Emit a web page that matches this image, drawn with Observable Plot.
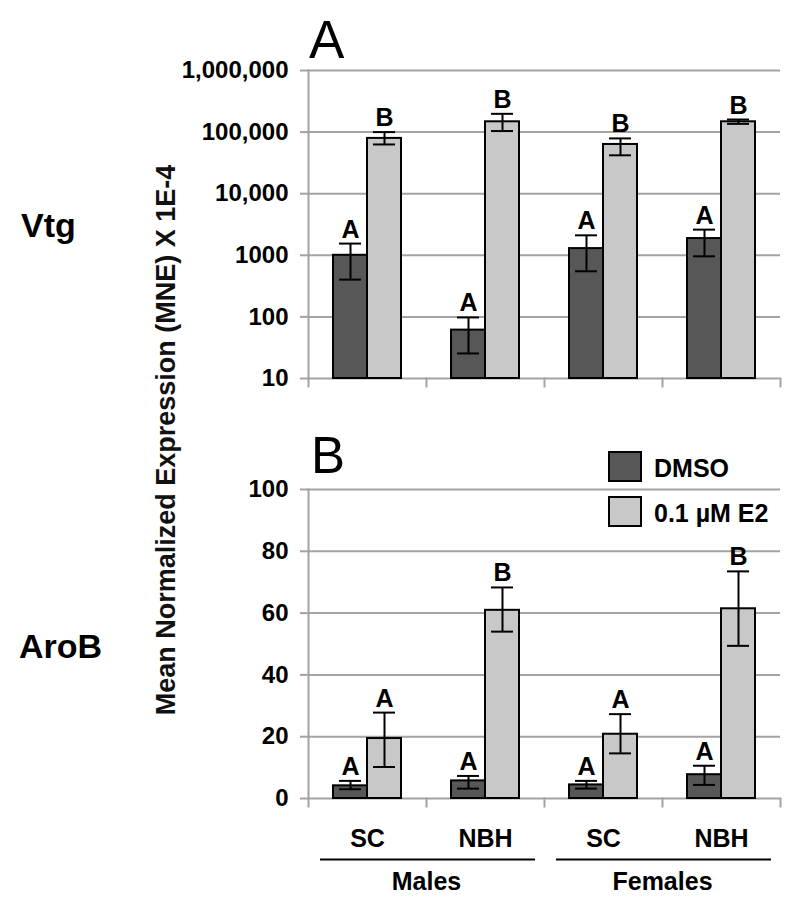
<!DOCTYPE html>
<html><head><meta charset="utf-8">
<script src="https://cdn.jsdelivr.net/npm/d3@7"></script>
<script src="https://cdn.jsdelivr.net/npm/@observablehq/plot@0.6"></script>
<style>
html,body{margin:0;padding:0;background:#fff;}
#chart{position:relative;width:800px;height:910px;background:#fff;}
#chart .wrap{position:absolute;left:0;width:800px;}
#chart svg{overflow:visible;}
#chart svg text{font-family:"Liberation Sans",Arial,Helvetica,sans-serif;font-weight:bold;}
#overlay{position:absolute;left:0;top:0;pointer-events:none;}
</style></head><body><div id="chart"></div>
<script>
// ---- categories ----
const groups = ["Males SC", "Males NBH", "Females SC", "Females NBH"];
const groupSex = ["Males", "Males", "Females", "Females"];
const groupSite = ["SC", "NBH", "SC", "NBH"];
const sexes = ["Males", "Females"];
const sites = ["SC", "NBH"];
const treatments = ["DMSO", "0.1 µM E2"];
const fills = ["#575757", "#c8c8c8"];
const GRID = "#a3a3a3";

// ---- Vtg (log panel A) ----
const vtgTicks = [10, 100, 1000, 10000, 100000, 1000000];
const vtgTickLabels = ["10", "100", "1000", "10,000", "100,000", "1,000,000"];
const vtgDmso   = [1000, 61, 1285, 1870];
const vtgDmsoLo = [403, 25.5, 550, 963];
const vtgDmsoHi = [1550, 98, 2110, 2610];
const vtgE2     = [79000, 147000, 63000, 147000];
const vtgE2Lo   = [63000, 104000, 42000, 136000];
const vtgE2Hi   = [100000, 198000, 79000, 160000];
const vtgDmsoLetters = ["A", "A", "A", "A"];
const vtgE2Letters   = ["B", "B", "B", "B"];

// ---- AroB (linear panel B) ----
const aroTicks = [0, 20, 40, 60, 80, 100];
const aroTickLabels = ["0", "20", "40", "60", "80", "100"];
const aroDmso   = [4.1, 5.7, 4.4, 7.7];
const aroDmsoLo = [3.0, 3.2, 3.2, 4.4];
const aroDmsoHi = [5.7, 7.3, 5.7, 10.6];
const aroE2     = [19.4, 60.9, 20.8, 61.4];
const aroE2Lo   = [10.2, 54.0, 14.6, 49.4];
const aroE2Hi   = [27.8, 68.3, 27.3, 73.5];
const aroDmsoLetters = ["A", "A", "A", "A"];
const aroE2Letters   = ["A", "B", "A", "B"];

function buildRows(d, dLo, dHi, dL, e, eLo, eHi, eL) {
  return groups.flatMap((g, i) => [
    {group: g, treatment: treatments[0], mean: d[i], lo: dLo[i], hi: dHi[i], letter: dL[i]},
    {group: g, treatment: treatments[1], mean: e[i], lo: eLo[i], hi: eHi[i], letter: eL[i]}
  ]);
}
const vtgRows = buildRows(vtgDmso, vtgDmsoLo, vtgDmsoHi, vtgDmsoLetters, vtgE2, vtgE2Lo, vtgE2Hi, vtgE2Letters);
const aroRows = buildRows(aroDmso, aroDmsoLo, aroDmsoHi, aroDmsoLetters, aroE2, aroE2Lo, aroE2Hi, aroE2Letters);

function panel(rows, yOpts, ticks, labels, height, mt, mb) {
  const frameH = height - mt - mb;
  const base = yOpts.domain[0];
  return Plot.plot({
    width: 800, height, marginLeft: 308, marginRight: 20, marginTop: mt, marginBottom: mb,
    fx: {domain: groups, padding: 0, axis: null, label: null},
    x: {type: "band", domain: treatments, paddingInner: 0, paddingOuter: 0.725, axis: null},
    y: {...yOpts, axis: null},
    color: {domain: treatments, range: fills},
    marks: [
      Plot.gridY(ticks, {stroke: GRID, strokeOpacity: 1, strokeWidth: 2}),
      Plot.frame({anchor: "right", stroke: GRID, strokeWidth: 2, insetTop: frameH, insetBottom: -8}),
      Plot.frame({anchor: "left", facetAnchor: "left", stroke: GRID, strokeWidth: 2, insetBottom: -8}),
      Plot.axisY(ticks, {facetAnchor: "left", tickFormat: (t) => labels[ticks.indexOf(t)], tickSize: 8, tickPadding: 12,
        stroke: GRID, strokeWidth: 2, fill: "#000", fontSize: 24, fontWeight: "bold", label: null}),
      Plot.barY(rows, {fx: "group", x: "treatment", y1: base, y2: "mean", fill: "treatment", stroke: "#000", strokeWidth: 2}),
      Plot.ruleX(rows, {fx: "group", x: "treatment", y1: "lo", y2: "hi", stroke: "#000", strokeWidth: 2}),
      Plot.tickY(rows, {fx: "group", x: "treatment", y: "lo", insetLeft: 6, insetRight: 6, stroke: "#000", strokeWidth: 2}),
      Plot.tickY(rows, {fx: "group", x: "treatment", y: "hi", insetLeft: 6, insetRight: 6, stroke: "#000", strokeWidth: 2}),
      Plot.text(rows, {fx: "group", x: "treatment", y: "hi", text: "letter", dy: -6, lineAnchor: "bottom",
        fontSize: 25, fontWeight: "bold", fill: "#000"})
    ]
  });
}

const chart = document.getElementById("chart");
function place(node, top) {
  const w = document.createElement("div");
  w.className = "wrap";
  w.style.top = top + "px";
  w.appendChild(node);
  chart.appendChild(w);
}

place(panel(vtgRows, {type: "log", domain: [10, 1000000]}, vtgTicks, vtgTickLabels, 400, 70, 22), 0);
place(panel(aroRows, {type: "linear", domain: [0, 100]}, aroTicks, aroTickLabels, 410, 89, 12), 400);

// category strip (site labels, sex underlines, sex labels)
const siteRows = groups.map((g, i) => ({sex: groupSex[i], site: groupSite[i]}));
const stripRows = ["site", "line", "sex"];
place(Plot.plot({
  width: 800, height: 100, marginLeft: 308, marginRight: 20, marginTop: 0, marginBottom: 0,
  fx: {domain: sexes, padding: 0, axis: null, label: null},
  x: {type: "band", domain: sites, padding: 0, axis: null},
  y: {type: "point", domain: stripRows, range: [35, 62.5], padding: 0, axis: null},
  marks: [
    Plot.text(siteRows, {fx: "sex", x: "site", y: () => "site", text: "site", lineAnchor: "bottom", fontSize: 25, fontWeight: "bold", fill: "#000"}),
    Plot.ruleY(sexes, {fx: (d) => d, y: () => "line", insetLeft: 12, insetRight: 9, stroke: "#000", strokeWidth: 2}),
    Plot.text(sexes, {fx: (d) => d, y: () => "sex", text: (d) => d, lineAnchor: "top", fontSize: 25, fontWeight: "bold", fill: "#000"})
  ]
}), 810);

// overlay: panel letters, gene labels, y title, legend
const ov = d3.select(chart).append("svg").attr("id", "overlay").attr("width", 800).attr("height", 910);
ov.append("text").attr("x", 309).attr("y", 58).attr("font-size", 53).style("font-weight", "normal").text("A");
ov.append("text").attr("x", 311).attr("y", 473).attr("font-size", 51).style("font-weight", "normal").text("B");
ov.append("text").attr("x", 21).attr("y", 237).attr("font-size", 34).text("Vtg");
ov.append("text").attr("x", 19).attr("y", 658).attr("font-size", 34).text("AroB");
ov.append("text").attr("transform", "translate(175,440) rotate(-90)").attr("text-anchor", "middle")
  .attr("font-size", 27).attr("fill", "#111").text("Mean Normalized Expression (MNE) X 1E-4");
const legTop = [452, 497];
treatments.forEach((t, i) => {
  ov.append("rect").attr("x", 609).attr("y", legTop[i]).attr("width", 32).attr("height", 29)
    .attr("fill", fills[i]).attr("stroke", "#000").attr("stroke-width", 2);
  ov.append("text").attr("x", 654).attr("y", legTop[i] + 25).attr("font-size", 25).text(t);
});
</script></body></html>
